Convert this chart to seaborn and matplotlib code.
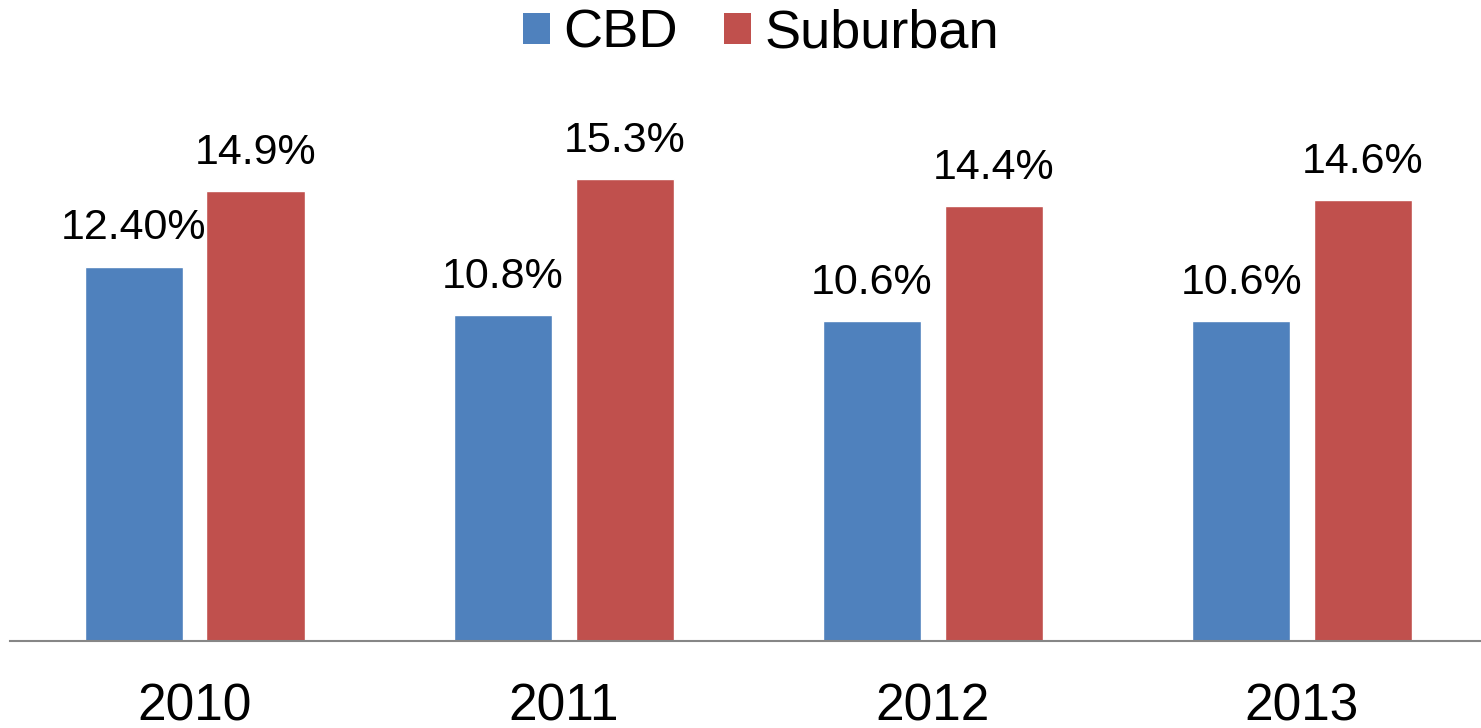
import matplotlib
matplotlib.use("Agg")
import matplotlib.pyplot as plt
import seaborn as sns
import pandas as pd

years = ["2010", "2011", "2012", "2013"]
cbd = [12.4, 10.8, 10.6, 10.6]
suburban = [14.9, 15.3, 14.4, 14.6]
cbd_labels = ["12.40%", "10.8%", "10.6%", "10.6%"]
sub_labels = ["14.9%", "15.3%", "14.4%", "14.6%"]
series = ["CBD", "Suburban"]
colors = ["#4F81BD", "#C0504D"]

df = pd.DataFrame({
    "Year": years * 2,
    "Value": cbd + suburban,
    "Series": ["CBD"] * 4 + ["Suburban"] * 4,
    "Label": cbd_labels + sub_labels,
})

sns.set_style("white")
plt.rcParams["font.family"] = ["Liberation Sans", "DejaVu Sans"]
plt.rcParams["text.color"] = "black"

fig = plt.figure(figsize=(14.81, 7.28), dpi=100)
ax = fig.add_axes([10 / 1481, 1 - 641 / 728, 1 - 10 / 1481, (641 - 40) / 728])

sns.barplot(data=df, x="Year", y="Value", hue="Series", order=years,
            hue_order=series, palette=colors, width=0.66, gap=0.195,
            saturation=1, ax=ax, legend=False, errorbar=None)

for cont, labs in zip(ax.containers, [cbd_labels, sub_labels]):
    ax.bar_label(cont, labels=labs, padding=13, fontsize=31, color="black")

ax.set_xlim(-0.5, 3.485)
ax.set_ylim(0, 19.9)
ax.set_xlabel("")
ax.set_ylabel("")
ax.set_yticks([])
for s in ["top", "right", "left"]:
    ax.spines[s].set_visible(False)
ax.spines["bottom"].set_color("#868686")
ax.spines["bottom"].set_linewidth(1.5)
ax.tick_params(axis="x", length=0, pad=30, labelsize=37, labelcolor="black")

from matplotlib.patches import Patch
handles = [Patch(facecolor=c, edgecolor="none") for c in colors]
fig.legend(handles, series, loc="center", bbox_to_anchor=(761 / 1481, 1 - 34 / 728),
           ncol=2, frameon=False, fontsize=39, handlelength=0.5, handleheight=0.5,
           handletextpad=0.25, columnspacing=0.85, borderpad=0, borderaxespad=0,
           labelcolor="black")

fig.savefig("out.png", dpi=100)
